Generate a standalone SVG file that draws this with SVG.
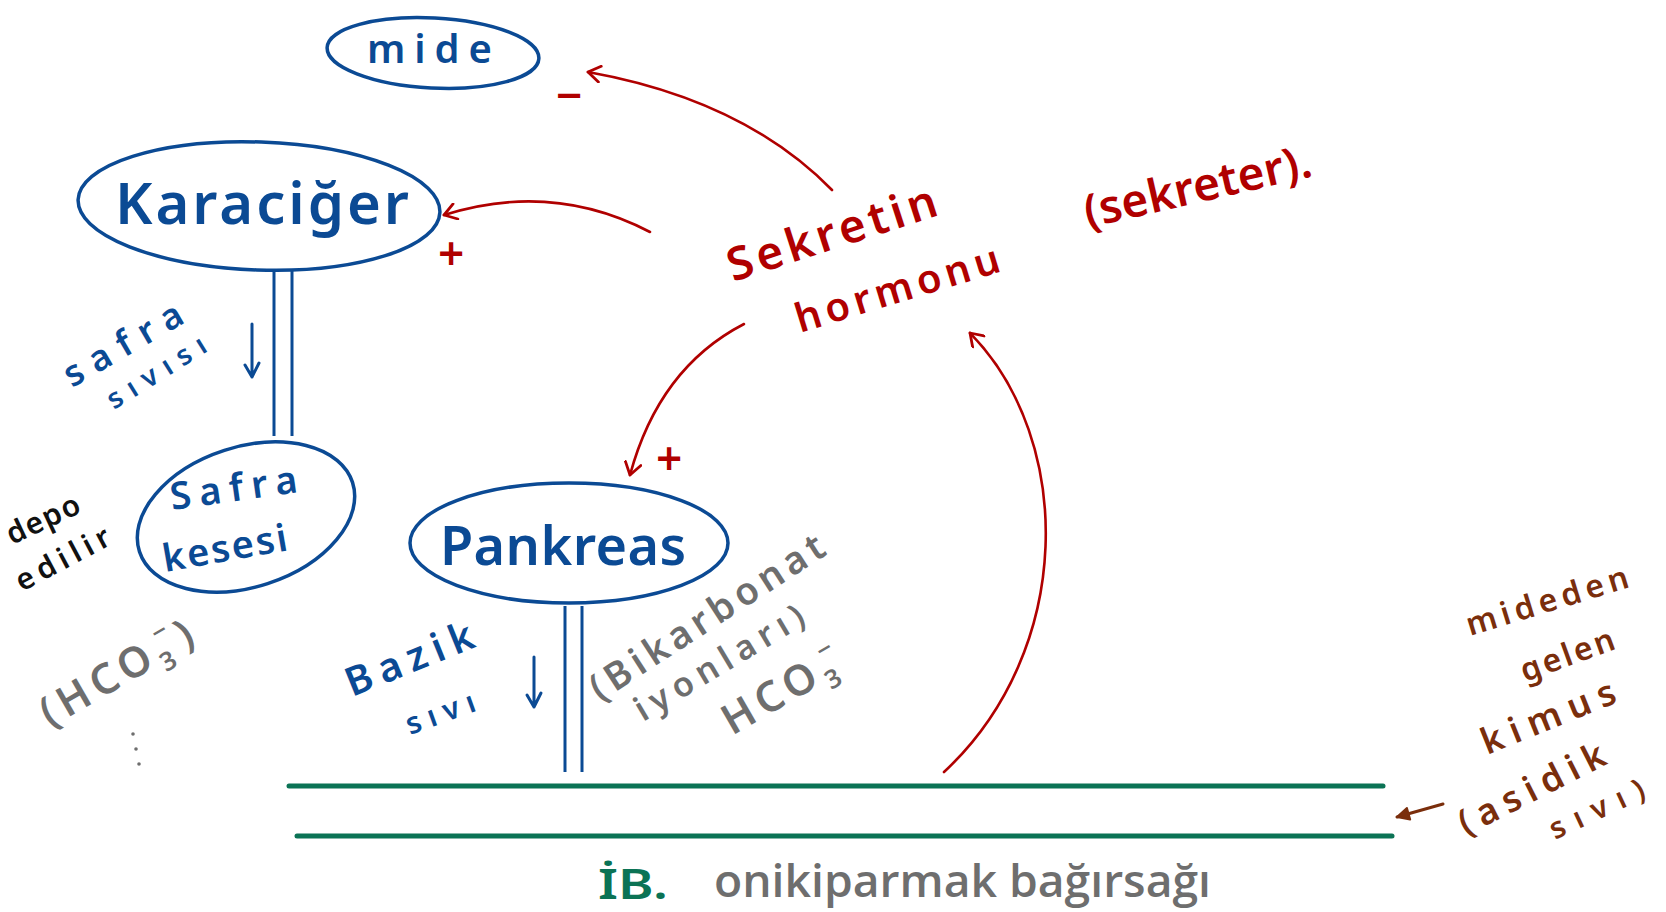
<svg xmlns="http://www.w3.org/2000/svg" width="1666" height="912" viewBox="0 0 1666 912">
  <defs>
    <style>
      .blue { fill: #0b4a94; }
      .red { fill: #b00000; }
      .gray { fill: #6e6e6e; }
      .brown { fill: #7a2e0c; }
      .black { fill: #111; }
      .green { fill: #0b7355; }
      .hand { font-family: "Noto Sans", "DejaVu Sans", sans-serif; font-weight: 600; }
      .organ { fill: none; stroke: #0b4a94; stroke-width: 3.5; }
      .duct { stroke: #0b4a94; stroke-width: 3; fill: none; }
      .hormone { fill: none; stroke: #b00000; stroke-width: 2.6; stroke-linecap: round; }
      .gut { stroke: #0b7355; stroke-width: 5; stroke-linecap: round; }
      .flow { fill: none; stroke: #0b4a94; stroke-width: 3; stroke-linecap: round; stroke-linejoin: round; }
      .sign { fill: none; stroke: #b00000; stroke-width: 3.5; stroke-linecap: round; }
    </style>
    <marker id="redHead" viewBox="-14 -9 16 18" markerWidth="16" markerHeight="18" refX="0" refY="0" orient="auto" markerUnits="userSpaceOnUse">
      <path d="M -12 -8 L 0 0 L -12 8" fill="none" stroke="#b00000" stroke-width="2.8" stroke-linecap="round" stroke-linejoin="round"/>
    </marker>
    <marker id="brownHead" viewBox="-16 -8 18 16" markerWidth="18" markerHeight="16" refX="0" refY="0" orient="auto" markerUnits="userSpaceOnUse">
      <path d="M -12 -6 L 0 0 L -12 6 Z" fill="#7a2e0c" stroke="#7a2e0c" stroke-width="2" stroke-linejoin="round"/>
    </marker>
  </defs>

  <rect width="1666" height="912" fill="#ffffff"/>

  <!-- duodenum walls -->
  <g id="duodenum">
    <line class="gut" x1="289" y1="786" x2="1383" y2="786"/>
    <line class="gut" x1="297" y1="836" x2="1392" y2="836"/>
    <text class="hand green" x="598" y="899" font-size="42" textLength="70" lengthAdjust="spacingAndGlyphs">İB.</text>
    <text class="gray" x="714" y="897" font-family="'Open Sans', 'Noto Sans', sans-serif" font-weight="600" font-size="46" textLength="497" lengthAdjust="spacingAndGlyphs">onikiparmak bağırsağı</text>
  </g>

  <g id="mide">
    <ellipse class="organ" cx="433" cy="53" rx="106" ry="35" transform="rotate(3 433 53)"/>
    <text class="hand blue" x="367" y="63" font-size="40" textLength="125" lengthAdjust="spacing">mide</text>
  </g>

  <g id="karaciger">
    <ellipse class="organ" cx="259" cy="206" rx="181" ry="64" transform="rotate(2 259 206)"/>
    <text class="hand blue" x="115" y="224" font-size="58" textLength="294" lengthAdjust="spacing">Karaciğer</text>
  </g>

  <g id="safra-kesesi">
    <ellipse class="organ" cx="246" cy="517" rx="112" ry="70" transform="rotate(-18 246 517)"/>
    <text class="hand blue" x="172" y="510" font-size="38" textLength="128" lengthAdjust="spacing" transform="rotate(-8 172 510)">Safra</text>
    <text class="hand blue" x="165" y="572" font-size="38" textLength="126" lengthAdjust="spacing" transform="rotate(-10 165 572)">kesesi</text>
  </g>

  <g id="pankreas">
    <ellipse class="organ" cx="569" cy="543" rx="159" ry="60"/>
    <text class="hand blue" x="440" y="565" font-size="54" textLength="246" lengthAdjust="spacing">Pankreas</text>
  </g>

  <!-- ducts and flow labels -->
  <g id="ducts">
    <line class="duct" x1="274" y1="271" x2="274" y2="436"/>
    <line class="duct" x1="292" y1="271" x2="292" y2="436"/>
    <line class="duct" x1="565" y1="606" x2="565" y2="772"/>
    <line class="duct" x1="582" y1="606" x2="582" y2="772"/>
    <path class="flow" d="M 252 324 L 252 377 M 245 365 L 252 377 L 259 363"/>
    <path class="flow" d="M 534 657 L 534 707 M 527 695 L 534 707 L 541 693"/>
  </g>

  <g id="labels-blue">
    <text class="hand blue" x="72" y="388" font-size="36" textLength="132" lengthAdjust="spacing" transform="rotate(-30 72 388)">safra</text>
    <text class="hand blue" x="114" y="410" font-size="28" textLength="112" lengthAdjust="spacing" transform="rotate(-32 114 410)">sıvısı</text>
    <text class="hand blue" x="352" y="697" font-size="40" textLength="135" lengthAdjust="spacing" transform="rotate(-22 352 697)">Bazik</text>
    <text class="hand blue" x="410" y="735" font-size="30" textLength="72" lengthAdjust="spacing" transform="rotate(-20 410 735)">sıvı</text>
  </g>

  <g id="depo">
    <text class="hand black" x="12" y="545" font-size="30" textLength="78" lengthAdjust="spacing" transform="rotate(-25 12 545)">depo</text>
    <text class="hand black" x="22" y="592" font-size="30" textLength="103" lengthAdjust="spacing" transform="rotate(-28 22 592)">edilir</text>
  </g>

  <g id="bicarbonate">
    <text class="hand gray" x="50" y="728" font-size="42" letter-spacing="6" transform="rotate(-30 50 728)">(HCO<tspan font-size="26" dy="10">3</tspan><tspan font-size="26" dy="-30" dx="-14">−</tspan><tspan dy="20">)</tspan></text>
    <circle cx="133" cy="734" r="1.8" fill="#6e6e6e"/>
    <circle cx="136" cy="749" r="1.8" fill="#6e6e6e"/>
    <circle cx="139" cy="764" r="1.8" fill="#6e6e6e"/>
    <text class="hand gray" x="600" y="702" font-size="38" textLength="272" lengthAdjust="spacing" transform="rotate(-33 600 702)">(Bikarbonat</text>
    <text class="hand gray" x="643" y="722" font-size="34" textLength="192" lengthAdjust="spacing" transform="rotate(-31 643 722)">iyonları)</text>
    <text class="hand gray" x="732" y="736" font-size="42" letter-spacing="6" transform="rotate(-30 732 736)">HCO<tspan font-size="26" dy="10">3</tspan><tspan font-size="26" dy="-30" dx="-14">−</tspan></text>
  </g>

  <g id="sekretin">
    <text class="hand red" x="733" y="282" font-size="46" textLength="218" lengthAdjust="spacing" transform="rotate(-18 733 282)">Sekretin</text>
    <text class="hand red" x="800" y="333" font-size="40" textLength="212" lengthAdjust="spacing" transform="rotate(-17 800 333)">hormonu</text>
    <text class="hand red" x="1088" y="228" font-size="46" textLength="232" lengthAdjust="spacing" transform="rotate(-13 1088 228)">(sekreter).</text>
  </g>

  <g id="kimus">
    <text class="hand brown" x="1470" y="636" font-size="32" textLength="168" lengthAdjust="spacing" transform="rotate(-17 1470 636)">mideden</text>
    <text class="hand brown" x="1525" y="682" font-size="32" textLength="98" lengthAdjust="spacing" transform="rotate(-20 1525 682)">gelen</text>
    <text class="hand brown" x="1487" y="755" font-size="36" textLength="142" lengthAdjust="spacing" transform="rotate(-22 1487 755)">kimus</text>
    <text class="hand brown" x="1466" y="836" font-size="36" textLength="160" lengthAdjust="spacing" transform="rotate(-27 1466 836)">(asidik</text>
    <text class="hand brown" x="1555" y="840" font-size="30" textLength="102" lengthAdjust="spacing" transform="rotate(-25 1555 840)">sıvı)</text>
  </g>

  <!-- hormone action arrows and chyme arrow -->
  <g id="connectors">
    <path class="hormone" d="M 832 190 Q 744 100 588 72" marker-end="url(#redHead)"/>
    <path class="hormone" d="M 650 232 Q 552 181 444 215" marker-end="url(#redHead)"/>
    <path class="hormone" d="M 744 324 Q 659 368 630 475" marker-end="url(#redHead)"/>
    <path class="hormone" d="M 944 772 C 1075 650 1075 440 970 333" marker-end="url(#redHead)"/>
    <path d="M 1443 804 L 1397 817" fill="none" stroke="#7a2e0c" stroke-width="3" stroke-linecap="round" marker-end="url(#brownHead)"/>
    <text class="hand red" x="556" y="112" font-size="46">−</text>
    <text class="hand red" x="438" y="270" font-size="46">+</text>
    <text class="hand red" x="656" y="475" font-size="46">+</text>
  </g>
</svg>
